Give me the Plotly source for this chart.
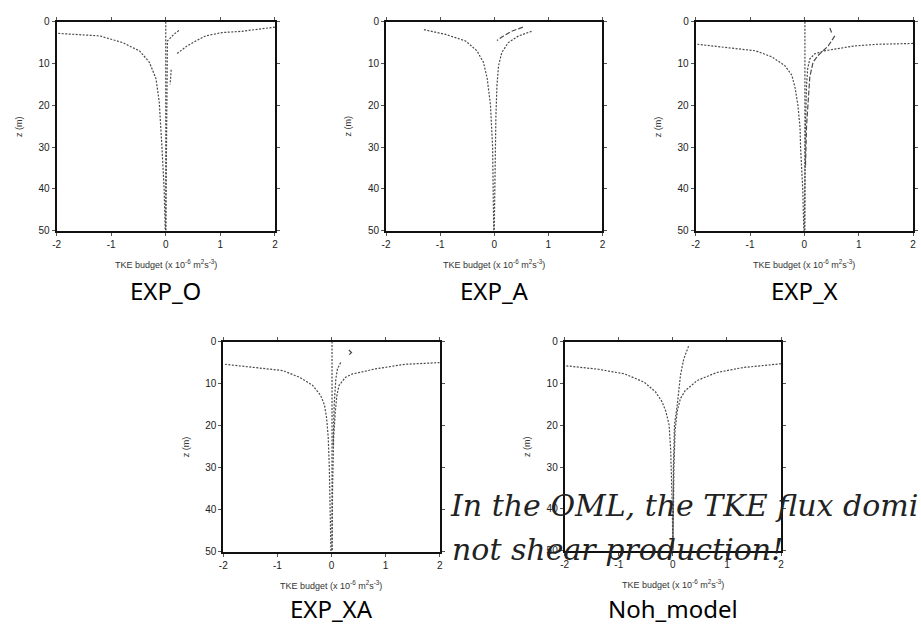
import plotly.graph_objects as go

W, H = 921, 641

# ---------------- data ----------------
panel_names = ["EXP_O", "EXP_A", "EXP_X", "EXP_XA", "Noh_model"]
x_ticks = [-2, -1, 0, 1, 2]
y_ticks = [0, 10, 20, 30, 40, 50]

# EXP_O
O_diss_z = [2.8, 3.4, 5.0, 7.0, 9.7, 13.6, 19.1, 26, 30, 40, 50]
O_diss_x = [-1.97, -1.21, -0.79, -0.48, -0.30, -0.18, -0.12, -0.08, -0.07, -0.03, -0.01]
O_flux_z = [1.3, 1.5, 2.3, 2.6, 3.4, 4.6, 5.8, 7.6]
O_flux_x = [2.0, 1.88, 1.39, 1.03, 0.73, 0.55, 0.39, 0.21]
O_shear_z = [2.1, 3.0, 4.6, 10, 20, 35, 50]
O_shear_x = [0.24, 0.15, 0.03, 0.03, 0.02, 0.01, 0.0]
O_buoy_z = [11.5, 13, 15]
O_buoy_x = [0.10, 0.09, 0.08]
O_zero_z = [0, 50]
O_zero_x = [0, 0]

# EXP_A
A_diss_z = [1.9, 3.05, 4.6, 6.96, 9.7, 13.6, 19.9, 26, 30, 40, 50]
A_diss_x = [-1.30, -0.90, -0.53, -0.32, -0.20, -0.13, -0.07, -0.04, -0.03, -0.02, -0.01]
A_flux_z = [2.3, 3.4, 5.0, 7.35, 10.5, 15.2, 23, 30, 40, 50]
A_flux_x = [0.69, 0.45, 0.26, 0.14, 0.08, 0.05, 0.03, 0.02, 0.01, 0.0]
A_shear_z = [1.3, 2.3, 3.4, 4.5]
A_shear_x = [0.53, 0.32, 0.17, 0.05]

# EXP_X
X_diss_z = [5.4, 6.2, 6.96, 8.4, 10.5, 12.8, 15.9, 19.9, 25.3, 30, 40, 50]
X_diss_x = [-1.97, -1.39, -0.90, -0.60, -0.36, -0.23, -0.17, -0.12, -0.08, -0.07, -0.03, -0.01]
X_flux_z = [5.2, 5.4, 5.8, 6.6, 6.96, 7.7, 8.9, 11.3, 15.2, 25, 50]
X_flux_x = [2.0, 1.35, 0.92, 0.56, 0.37, 0.19, 0.10, 0.06, 0.04, 0.02, 0.0]
X_shear_z = [3.4, 5.8, 8.1, 9.7, 13.2, 18.3, 25, 35]
X_shear_x = [0.56, 0.44, 0.25, 0.16, 0.10, 0.07, 0.04, 0.02]
X_top_z = [1.5, 2.6]
X_top_x = [0.47, 0.50]
X_zero_z = [0, 50]
X_zero_x = [0.01, 0.01]

# EXP_XA
XA_diss_z = [5.4, 6.2, 6.9, 8.5, 10.4, 12.8, 15.1, 18.2, 22.9, 30, 40, 50]
XA_diss_x = [-1.97, -1.39, -0.90, -0.59, -0.35, -0.20, -0.13, -0.09, -0.06, -0.04, -0.03, -0.01]
XA_flux_z = [5.0, 5.4, 6.5, 7.1, 7.7, 8.5, 10.4, 12.8, 16.7, 22.9, 35, 50]
XA_flux_x = [2.0, 1.36, 0.81, 0.57, 0.39, 0.26, 0.14, 0.10, 0.07, 0.04, 0.02, 0.01]
XA_shear_z = [5.0, 6.5, 8.9, 15, 25]
XA_shear_x = [0.17, 0.11, 0.08, 0.05, 0.03]
XA_top_z = [2.0, 2.6, 3.1]
XA_top_x = [0.32, 0.37, 0.33]
XA_zero_z = [0, 50]
XA_zero_x = [0.01, 0.01]

# Noh_model
N_diss_z = [5.8, 6.6, 7.7, 9.7, 12.05, 14.4, 16.7, 19.9, 26.1, 30, 40, 50]
N_diss_x = [-1.97, -1.39, -0.90, -0.53, -0.32, -0.20, -0.13, -0.07, -0.04, -0.03, -0.01, 0.0]
N_flux_z = [5.3, 6.2, 7.4, 9.3, 11.7, 13.6, 16.7, 21.4, 30, 50]
N_flux_x = [2.0, 1.30, 0.81, 0.45, 0.23, 0.14, 0.08, 0.04, 0.02, 0.0]
N_shear_z = [1.1, 4.2, 8.1, 12.05, 15.2, 19.9, 30, 50]
N_shear_x = [0.29, 0.20, 0.14, 0.11, 0.08, 0.03, 0.01, 0.0]

overlay_line1 = "In the OML, the TKE flux domi"
overlay_line2 = "not shear production!"

# ---------------- layout helpers ----------------
# panel pixel boxes: (left, right, top, bottom)
boxes = [(53, 273, 16, 229), (385, 603, 16, 229), (697, 916, 16, 229),
         (221, 439, 342, 556), (565, 783, 342, 555)]

series = [
    [(O_diss_x, O_diss_z, "dot"), (O_flux_x, O_flux_z, "dot"), (O_shear_x, O_shear_z, "dot"),
     (O_buoy_x, O_buoy_z, "dot"), (O_zero_x, O_zero_z, "dot")],
    [(A_diss_x, A_diss_z, "dot"), (A_flux_x, A_flux_z, "dot"), (A_shear_x, A_shear_z, "dash")],
    [(X_diss_x, X_diss_z, "dot"), (X_flux_x, X_flux_z, "dot"), (X_shear_x, X_shear_z, "dash"),
     (X_top_x, X_top_z, "dash"), (X_zero_x, X_zero_z, "dot")],
    [(XA_diss_x, XA_diss_z, "dot"), (XA_flux_x, XA_flux_z, "dot"), (XA_shear_x, XA_shear_z, "dot"),
     (XA_top_x, XA_top_z, "solid"), (XA_zero_x, XA_zero_z, "dot")],
    [(N_diss_x, N_diss_z, "dot"), (N_flux_x, N_flux_z, "dot"), (N_shear_x, N_shear_z, "dot")],
]

def px(x):
    return x / W

def py(y):
    return 1 - y / H

fig = go.Figure()
annotations = []
xtitle = "TKE budget (x 10<sup>-6</sup> m<sup>2</sup>s<sup>-3</sup>)"

for i, (box, curves, name) in enumerate(zip(boxes, series, panel_names)):
    l, r, t, b = box
    xa = "xaxis" if i == 0 else f"xaxis{i+1}"
    ya = "yaxis" if i == 0 else f"yaxis{i+1}"
    xref = "x" if i == 0 else f"x{i+1}"
    yref = "y" if i == 0 else f"y{i+1}"
    for (xs, zs, dash) in curves:
        fig.add_trace(go.Scatter(x=xs, y=zs, mode="lines", xaxis=xref, yaxis=yref,
                                 line=dict(color="#4a4a4a", width=1.2,
                                           dash=("2px,1.5px" if dash == "dot" else
                                                 ("5px,2px" if dash == "dash" else dash))),
                                 showlegend=False, hoverinfo="skip"))
    axis_common = dict(showgrid=False, zeroline=False, showline=True, mirror="ticks",
                       linecolor="#111", linewidth=2, ticks="outside", ticklen=3,
                       tickcolor="#555", tickwidth=1,
                       tickfont=dict(family="Liberation Sans, Arial", size=10, color="#222"))
    fig.layout[xa] = dict(domain=[px(l), px(r)], range=[-2, 2], tickvals=x_ticks,
                          ticktext=[str(v) for v in x_ticks], anchor=yref, **axis_common)
    fig.layout[ya] = dict(domain=[py(b), py(t)], range=[50, 0], tickvals=y_ticks,
                          anchor=xref, **axis_common)
    cx = (l + r) / 2
    annotations.append(dict(x=px(cx), y=py(b + 34), xref="paper", yref="paper",
                            text=xtitle, showarrow=False, xanchor="center", yanchor="middle",
                            font=dict(family="Liberation Sans, Arial", size=9, color="#333")))
    annotations.append(dict(x=px(l - 38), y=py((t + b) / 2), xref="paper", yref="paper",
                            text="z (m)", textangle=-90, showarrow=False,
                            xanchor="center", yanchor="middle",
                            font=dict(family="Liberation Sans, Arial", size=9, color="#333")))
    annotations.append(dict(x=px(cx), y=py(b + 61 if i < 3 else 614), xref="paper", yref="paper",
                            text=name, showarrow=False, xanchor="center", yanchor="middle",
                            font=dict(family="Noto Sans, DejaVu Sans", size=24, color="#000")))

annotations.append(dict(x=px(447), y=py(509), xref="paper", yref="paper",
                        text="<i>" + overlay_line1 + "</i>", showarrow=False,
                        xanchor="left", yanchor="middle",
                        font=dict(family="DejaVu Serif", size=30, color="#222")))
annotations.append(dict(x=px(449), y=py(554), xref="paper", yref="paper",
                        text="<i>" + overlay_line2 + "</i>", showarrow=False,
                        xanchor="left", yanchor="middle",
                        font=dict(family="DejaVu Serif", size=30, color="#222")))

fig.update_layout(width=W, height=H, margin=dict(l=0, r=0, t=0, b=0),
                  paper_bgcolor="white", plot_bgcolor="white",
                  annotations=annotations, showlegend=False)

fig.write_html("out.html")
